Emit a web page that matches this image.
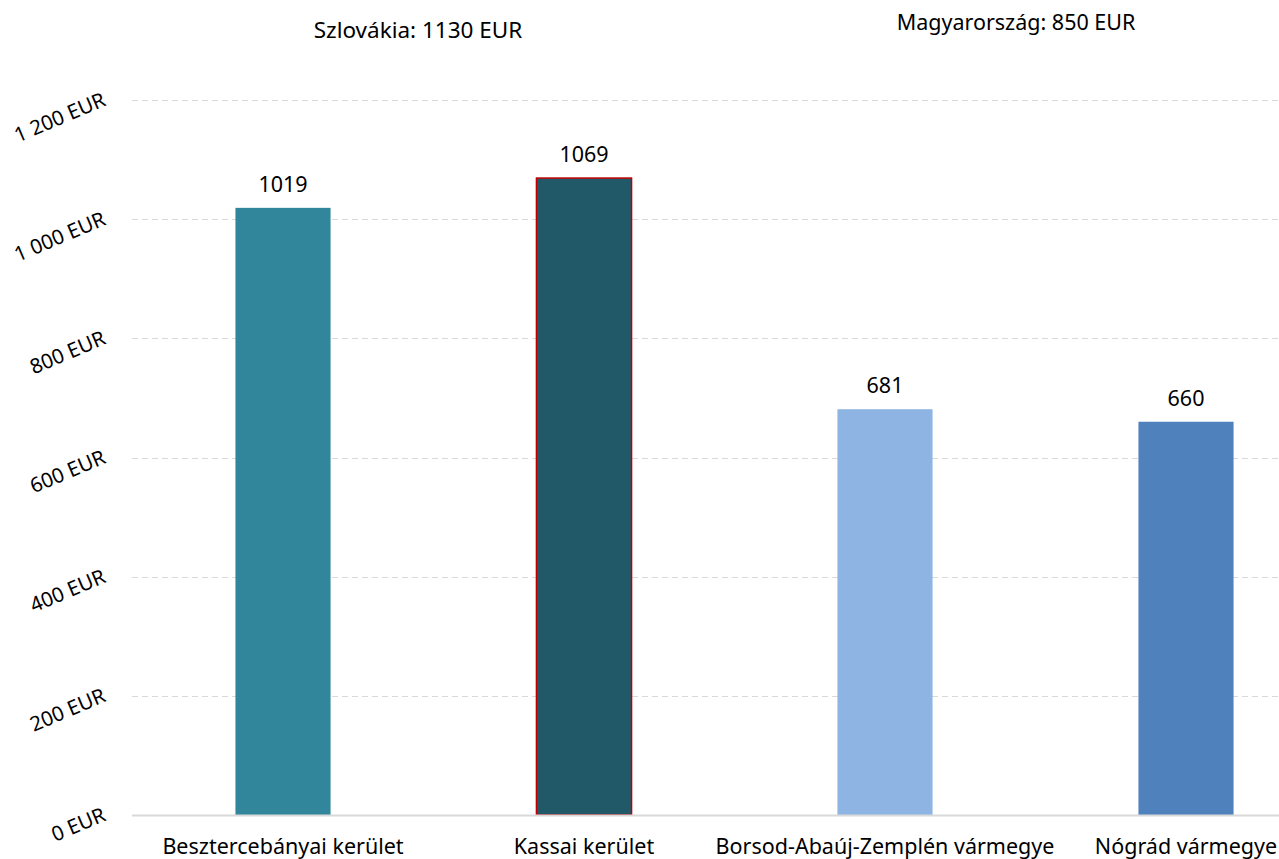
<!DOCTYPE html>
<html>
<head>
<meta charset="utf-8">
<script src="https://cdn.jsdelivr.net/npm/d3@7"></script>
<style>
  body { margin: 0; background: #fff; }
  text { font-family: 'Noto Sans', sans-serif; fill: #000; }
</style>
</head>
<body>
<div id="chart"></div>
<script>
// data
var regions = ['Besztercebányai kerület', 'Kassai kerület', 'Borsod-Abaúj-Zemplén vármegye', 'Nógrád vármegye']
var wages = [1019, 1069, 681, 660]
var barColors = ['#31869b', '#215968', '#8db4e2', '#4f81bd']
var yTicks = [0, 200, 400, 600, 800, 1000, 1200]
var countryNotes = ['Szlovákia: 1130 EUR', 'Magyarország: 850 EUR']

var width = 1279
var height = 859
var margin = { top: 100, bottom: 44, left: 132 }

var svg = d3
  .select('#chart')
  .append('svg')
  .attr('width', width)
  .attr('height', height)

var x = d3
  .scaleBand()
  .domain(regions)
  .range([132.5, 1336.5])
  .paddingInner(0.684)
  .paddingOuter(0.342)

var y = d3
  .scaleLinear()
  .domain([0, 1200])
  .range([height - margin.bottom, margin.top])

// gridlines
svg
  .selectAll('.grid')
  .data(yTicks.filter(d => d > 0))
  .enter()
  .append('line')
  .attr('x1', margin.left)
  .attr('x2', width)
  .attr('y1', d => Math.round(y(d)) + 0.5)
  .attr('y2', d => Math.round(y(d)) + 0.5)
  .attr('stroke', '#d9d9d9')
  .attr('stroke-width', 1)
  .attr('stroke-dasharray', '6,4')

// y tick labels (rotated)
svg
  .selectAll('.ytick')
  .data(yTicks)
  .enter()
  .append('text')
  .attr('text-anchor', 'end')
  .attr('font-size', 20.5)
  .attr('transform', d => 'translate(107,' + (y(d) + 5) + ') rotate(-23)')
  .text(d => d3.format(',')(d).replace(',', ' ') + ' EUR')

// bars
svg
  .selectAll('.bar')
  .data(wages)
  .enter()
  .append('rect')
  .attr('x', (d, i) => x(regions[i]))
  .attr('width', x.bandwidth())
  .attr('y', d => y(d))
  .attr('height', d => y(0) - y(d))
  .attr('fill', (d, i) => barColors[i])
  .attr('stroke', (d, i) => (i === 1 ? '#c00000' : 'none'))
  .attr('stroke-width', 1.5)

// baseline
svg
  .append('line')
  .attr('x1', margin.left)
  .attr('x2', width)
  .attr('y1', y(0) + 0.5)
  .attr('y2', y(0) + 0.5)
  .attr('stroke', '#d9d9d9')
  .attr('stroke-width', 2)

// value labels
svg
  .selectAll('.val')
  .data(wages)
  .enter()
  .append('text')
  .attr('x', (d, i) => x(regions[i]) + x.bandwidth() / 2)
  .attr('y', d => y(d) - 16)
  .attr('text-anchor', 'middle')
  .attr('font-size', 21.5)
  .text(d => d)

// category labels
svg
  .selectAll('.cat')
  .data(regions)
  .enter()
  .append('text')
  .attr('x', d => x(d) + x.bandwidth() / 2)
  .attr('y', height - 5)
  .attr('text-anchor', 'middle')
  .attr('font-size', 21.5)
  .text(d => d)

// country averages on top
svg
  .selectAll('.note')
  .data(countryNotes)
  .enter()
  .append('text')
  .attr('x', (d, i) => (i === 0 ? 418 : 1016))
  .attr('y', (d, i) => (i === 0 ? 38 : 30))
  .attr('text-anchor', 'middle')
  .attr('font-size', (d, i) => (i === 0 ? 22.5 : 21.5))
  .text(d => d)
</script>
</body>
</html>
